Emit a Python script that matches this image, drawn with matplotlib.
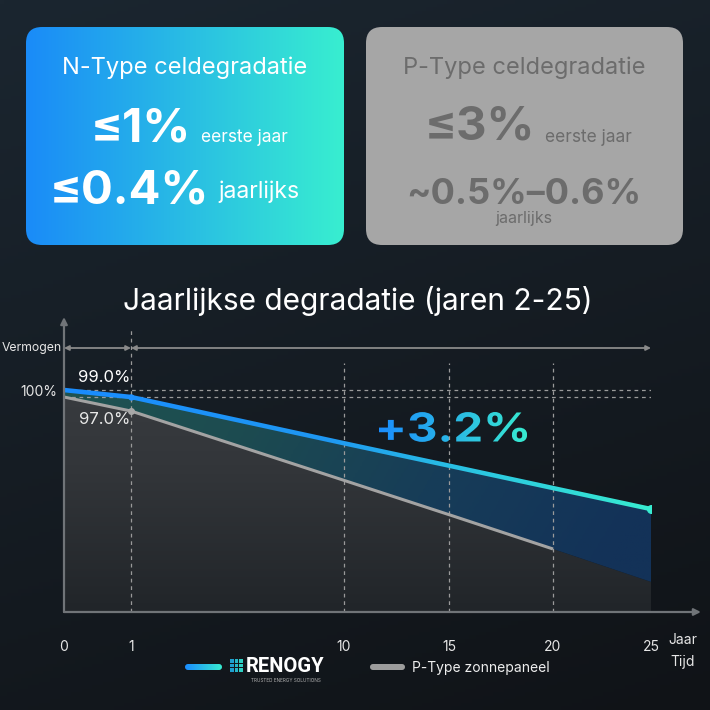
import numpy as np
import matplotlib
matplotlib.use("Agg")
import matplotlib.pyplot as plt
from matplotlib.colors import LinearSegmentedColormap
from matplotlib.patches import FancyBboxPatch, PathPatch
from matplotlib.textpath import TextPath
from matplotlib.font_manager import FontProperties
from matplotlib.transforms import Affine2D

plt.rcParams['font.family'] = ['Inter', 'DejaVu Sans']

# ---------------- data ----------------
years = [0, 1, 10, 15, 20, 25]
ntype = [100.0, 99.0, 92.4, 89.2, 86.0, 83.0]        # N-Type (Renogy)
ptype = [99.0, 97.0, 87.1, 82.2, 77.3, 72.6]         # P-Type zonnepaneel
ptype_line_end = 20                                   # grey line drawn until year 20
tick_labels = ["0", "1", "10", "15", "20", "25"]
gain_label = "+3.2%"
title = "Jaarlijkse degradatie (jaren 2-25)"

# ---------------- layout ----------------
W = H = 710
tick_px = [64, 131, 344, 449, 553, 651]   # horizontal position of the year ticks (schematic axis)
AX_L, AX_R, AX_T, AX_B = 64, 651, 320, 612
Y_LO, Y_HI = 68.3, 110.0

fig = plt.figure(figsize=(W / 100, H / 100), dpi=100)

# background
bg = fig.add_axes([0, 0, 1, 1], zorder=0)
bg.axis('off')
yy, xx = np.mgrid[0:1:200j, 0:1:200j]
top = np.array([0x1b, 0x26, 0x30]) / 255
bot = np.array([0x10, 0x13, 0x17]) / 255
t = np.clip(0.75 * yy + 0.25 * xx, 0, 1)[..., None]
bg.imshow(top * (1 - t) + bot * t, extent=[0, 1, 0, 1], aspect='auto', origin='upper')

# overlay in pixel coordinates (y down)
ov = fig.add_axes([0, 0, 1, 1], zorder=1)
ov.set_xlim(0, W)
ov.set_ylim(H, 0)
ov.axis('off')
ov.patch.set_alpha(0)


def hgrad(c0, c1, n=256):
    return LinearSegmentedColormap.from_list('g', [c0, c1])(np.linspace(0, 1, n))[None, :, :]


# ---- cards ----
card_l = FancyBboxPatch((26, 27), 318, 218, boxstyle="round,pad=0,rounding_size=16",
                        fc='none', ec='none')
ov.add_patch(card_l)
im = ov.imshow(hgrad('#1a8bf8', '#38eed0'), extent=[26, 344, 245, 27], aspect='auto',
               origin='upper', zorder=2)
im.set_clip_path(card_l)
ov.set_xlim(0, W); ov.set_ylim(H, 0)

card_r = FancyBboxPatch((366, 27), 317, 218, boxstyle="round,pad=0,rounding_size=16",
                        fc='#a6a6a6', ec='none', zorder=2)
ov.add_patch(card_r)

wt = '#ffffff'
gt = '#6c6c6c'
ov.text(185, 68, "N-Type celdegradatie", color=wt, fontsize=17, ha='center', va='center', zorder=3)
ov.text(191, 129, "≤1%", color=wt, fontsize=34, fontweight='bold', ha='right', va='center', zorder=3)
ov.text(201, 137, "eerste jaar", color=wt, fontsize=12.5, ha='left', va='center', zorder=3)
ov.text(209, 192, "≤0.4%", color=wt, fontsize=34, fontweight='bold', ha='right', va='center', zorder=3)
ov.text(218, 192, "jaarlijks", color=wt, fontsize=16.5, ha='left', va='center', zorder=3)

ov.text(524, 68, "P-Type celdegradatie", color=gt, fontsize=17, ha='center', va='center', zorder=3)
ov.text(535, 127, "≤3%", color=gt, fontsize=34, fontweight='bold', ha='right', va='center', zorder=3)
ov.text(545, 137, "eerste jaar", color=gt, fontsize=12.5, ha='left', va='center', zorder=3)
ov.text(524, 194, "~0.5%–0.6%", color=gt, fontsize=26, fontweight='bold', ha='center', va='center', zorder=3)
ov.text(524, 218, "jaarlijks", color=gt, fontsize=11.5, ha='center', va='center', zorder=3)

# title
ov.text(358, 301, title, color='white', fontsize=21.5, ha='center', va='center', zorder=3)

# ---------------- chart axes ----------------
tick_frac = [(p - AX_L) / (AX_R - AX_L) for p in tick_px]


def fwd(x):
    x = np.asarray(x, dtype=float)
    return np.interp(x, years, tick_frac)


def inv(f):
    f = np.asarray(f, dtype=float)
    return np.interp(f, tick_frac, years)


ax = fig.add_axes([AX_L / W, (H - AX_B) / H, (AX_R - AX_L) / W, (AX_B - AX_T) / H], zorder=2)
ax.set_xscale('function', functions=(fwd, inv))
ax.patch.set_alpha(0)
for s in ax.spines.values():
    s.set_visible(False)

yrs = np.array(years, dtype=float)
nt = np.array(ntype)
pt = np.array(ptype)

# fill under the grey (P-Type) curve - vertical gradient
poly_p = ax.fill_between(yrs, Y_LO, pt, fc='none', ec='none')
gimg = np.linspace(0, 1, 256)[:, None]
gcm = LinearSegmentedColormap.from_list('gg', ['#3d4044', '#33363a', '#212529'])
im1 = ax.imshow(gcm(gimg), extent=[0, 1, 0, 1], transform=ax.transAxes, aspect='auto',
                origin='upper', zorder=1)
im1.set_clip_path(poly_p.get_paths()[0], transform=ax.transData)

# fill between the two curves - horizontal gradient (teal -> blue)
poly_g = ax.fill_between(yrs, pt, nt, fc='none', ec='none')
bx = np.linspace(0, 1, 256)
by = np.linspace(0, 1, 128)
BX, BY = np.meshgrid(bx, by)
tt = np.clip(0.85 * BX + 0.25 * BY, 0, 1)
ccm = LinearSegmentedColormap.from_list('bb', ['#1f5452', '#1d4c50', '#173d58', '#133258'])
im2 = ax.imshow(ccm(tt), extent=[0, 1, 0, 1], transform=ax.transAxes, aspect='auto',
                origin='upper', zorder=1)
im2.set_clip_path(poly_g.get_paths()[0], transform=ax.transData)

# grey P-Type line (drawn up to year 20)
mask = yrs <= ptype_line_end
ax.plot(yrs[mask], pt[mask], color='#a3a3a3', lw=2.2, zorder=3, solid_capstyle='butt')
ax.plot([yrs[1]], [pt[1]], 'o', ms=4, color='#a8a8a8', zorder=4)

# blue N-Type line with gradient (band clip)
half = 0.33
band = ax.fill_between(yrs, nt - half, nt + half, fc='none', ec='none')
lcm = LinearSegmentedColormap.from_list('ll', [(0, '#1a8cff'), (0.45, '#1f98f2'),
                                               (0.7, '#2bc6e2'), (1.0, '#38ecd0')])
im3 = ax.imshow(lcm(np.linspace(0, 1, 256))[None, :, :], extent=[0, 1, 0, 1],
                transform=ax.transAxes, aspect='auto', origin='upper', zorder=5)
im3.set_clip_path(band.get_paths()[0], transform=ax.transData)
ax.plot([yrs[-1]], [nt[-1]], 'o', ms=5.5, color='#38ecd0', zorder=6)
ax.plot([yrs[1]], [nt[1]], 'o', ms=3.5, color='#1e90ff', zorder=6)

# reference dashed lines
ax.hlines([nt[0], nt[1]], yrs[0], yrs[-1], colors='#9a9a9a', linestyles=(0, (3, 3)), lw=0.9, zorder=2)
xt = ax.get_xaxis_transform()
ax.vlines([yrs[1]], 0, 0.966, transform=xt, colors='#9a9a9a', linestyles=(0, (3, 3)), lw=0.9, zorder=2)
ax.vlines(yrs[2:5], 0, 0.853, transform=xt, colors='#9a9a9a', linestyles=(0, (3, 3)), lw=0.9, zorder=2)

ax.set_xlim(0, 25)
ax.set_ylim(Y_LO, Y_HI)

# axes arrows
acol = '#707478'
ax.annotate('', xy=(1.085, 0), xytext=(0, 0), xycoords='axes fraction', textcoords='axes fraction',
            arrowprops=dict(arrowstyle='-|>', color=acol, lw=1.6, mutation_scale=10,
                            shrinkA=0, shrinkB=0), annotation_clip=False, zorder=7)
ax.annotate('', xy=(0, 1.01), xytext=(0, 0), xycoords='axes fraction', textcoords='axes fraction',
            arrowprops=dict(arrowstyle='-|>', color=acol, lw=1.6, mutation_scale=10,
                            shrinkA=0, shrinkB=0), annotation_clip=False, zorder=7)

# span arrows
ya = (AX_B - 348) / (AX_B - AX_T)
for a, b in [(yrs[0], yrs[1]), (yrs[1], yrs[-1])]:
    ax.annotate('', xy=(b, ya), xytext=(a, ya), xycoords=('data', 'axes fraction'),
                textcoords=('data', 'axes fraction'),
                arrowprops=dict(arrowstyle='<|-|>', color='#8a8a8a', lw=1.3, mutation_scale=7,
                                shrinkA=0, shrinkB=0), annotation_clip=False)

# ticks
ax.set_xticks(years)
ax.set_xticklabels(tick_labels)
ax.set_yticks([nt[0]])
ax.set_yticklabels([f"{nt[0]:.0f}%"])
ax.tick_params(axis='x', length=0, pad=20, labelsize=10, labelcolor='#e6e6e6')
ax.tick_params(axis='y', length=0, pad=5, labelsize=10, labelcolor='#e6e6e6')
ax.minorticks_off()

# value labels
ax.annotate(f"{nt[1]:.1f}%", xy=(yrs[1], nt[1]), xytext=(-19, 14), textcoords='offset points',
            ha='center', va='center', color='white', fontsize=12, zorder=8)
ax.annotate(f"{pt[1]:.1f}%", xy=(yrs[1], pt[1]), xytext=(-19, -6), textcoords='offset points',
            ha='center', va='center', color='#e8e8e8', fontsize=12, zorder=8)

# axis titles
ov.text(62, 348, "Vermogen", color='#e6e6e6', fontsize=8.8, ha='right', va='center', zorder=3)
ov.text(683, 640, "Jaar", color='#e6e6e6', fontsize=10, ha='center', va='center', zorder=3)
ov.text(683, 662, "Tijd", color='#e6e6e6', fontsize=10, ha='center', va='center', zorder=3)

# ---- gradient "+3.2%" label ----
fp = FontProperties(family=['Inter', 'DejaVu Sans'], weight='bold')
tp = TextPath((0, 0), gain_label, size=40, prop=fp)
ext = tp.get_extents()
gx0, gx1, gy0, gy1 = 379, 527, 412, 442
sc = (gx1 - gx0) / ext.width
sy = (gy1 - gy0) / ext.height
trans = Affine2D().translate(-ext.x0, -ext.y0).scale(sc, -sy).translate(gx0, gy1) + ov.transData
pp = PathPatch(tp, transform=trans, fc='none', ec='none')
ov.add_patch(pp)
tcm = LinearSegmentedColormap.from_list('tt', ['#1a8cff', '#2ab8e6', '#38ecd0'])
im4 = ov.imshow(tcm(np.linspace(0, 1, 256))[None, :, :], extent=[gx0 - 2, gx1 + 2, gy1 + 2, gy0 - 2],
                aspect='auto', origin='upper', zorder=4)
im4.set_clip_path(pp)

# ---- legend ----
lg = FancyBboxPatch((185, 664), 37, 6, boxstyle="round,pad=0,rounding_size=3", fc='none', ec='none')
ov.add_patch(lg)
im5 = ov.imshow(hgrad('#1a8cff', '#38ecd0'), extent=[185, 222, 670, 664], aspect='auto',
                origin='upper', zorder=4)
im5.set_clip_path(lg)
# logo grid
for i in range(3):
    for j in range(3):
        c = ['#1f9fd0', '#25b7c8', '#2fd0c4'][j]
        ov.add_patch(plt.Rectangle((230 + j * 4.6, 659 + i * 4.6), 3.8, 3.8, fc=c, ec='none', zorder=4))
ov.text(246, 667, "RENOGY", color='white', fontsize=14.5, fontweight='bold', ha='left', va='center',
        zorder=4, family=['Roboto', 'DejaVu Sans'])
ov.text(286, 681, "TRUSTED ENERGY SOLUTIONS", color='#b0b0b0', fontsize=3.4, ha='center', va='center',
        zorder=4)
ov.add_patch(FancyBboxPatch((370, 664), 35, 6, boxstyle="round,pad=0,rounding_size=3", fc='#9c9c9c',
                            ec='none', zorder=4))
ov.text(412, 668, "P-Type zonnepaneel", color='#eeeeee', fontsize=10, ha='left', va='center', zorder=4)

ov.set_xlim(0, W)
ov.set_ylim(H, 0)

fig.savefig("out.png", dpi=100)
